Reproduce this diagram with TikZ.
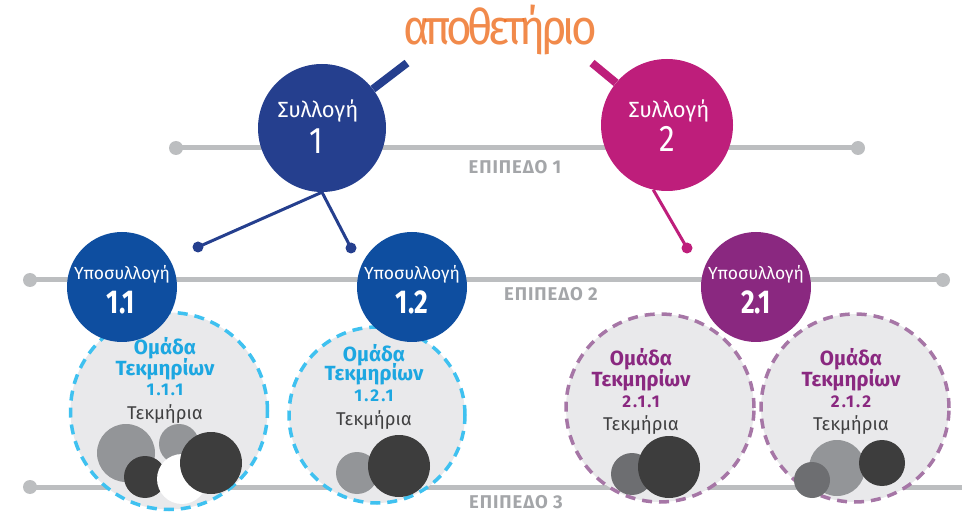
\documentclass[tikz,border=0pt]{standalone}
\usepackage{fontspec}
\setmainfont{Fira Sans}
\newfontfamily\cond[FakeStretch=0.85]{Fira Sans}
\newfontfamily\lvfont[LetterSpace=5]{Fira Sans}
\newfontfamily\numfont[FakeStretch=0.8]{Fira Sans}
\newfontfamily\grpnumfont[LetterSpace=12]{Fira Sans}
\newfontfamily\titlefont[FakeStretch=0.9,LetterSpace=-9]{Fira Sans}
\definecolor{cOne}{HTML}{253F8E}
\definecolor{cTwo}{HTML}{BE1E7B}
\definecolor{cSubOne}{HTML}{0E4EA0}
\definecolor{cSubTwo}{HTML}{8A2880}
\definecolor{cyanT}{HTML}{1DA7E1}
\definecolor{cyanD}{HTML}{3FC1F0}
\definecolor{purpD}{HTML}{A676A6}
\definecolor{lvl}{HTML}{BCBEC0}
\definecolor{lvltxt}{HTML}{A4A6A9}
\definecolor{grpfill}{HTML}{E9E9EB}
\definecolor{evLight}{HTML}{939598}
\definecolor{evDark}{HTML}{3D3D3D}
\definecolor{evMid}{HTML}{6D6E71}
\definecolor{txtDark}{HTML}{404041}
\definecolor{orangeT}{HTML}{EE6D1E}
\begin{document}
\begin{tikzpicture}[x=1pt,y=-1pt,
  lvline/.style={draw=lvl, line width=5},
  lvdot/.style={circle, fill=lvl, minimum size=14, inner sep=0},
  lvlabel/.style={font=\lvfont\bfseries\fontsize{18.5}{18.5}\selectfont, text=lvltxt, inner sep=0},
  collnode/.style={circle, inner sep=0, minimum size=128},
  subnode/.style={circle, inner sep=0, minimum size=110},
  grpnode/.style={circle, inner sep=0, fill=grpfill, line width=3.5, dash pattern=on 10 off 7},
  smalldot/.style={circle, inner sep=0, minimum size=11},
  colltxt/.style={anchor=base, text=white, inner sep=0, font=\fontsize{22}{22}\selectfont},
  collnum/.style={anchor=base, text=white, inner sep=0, font=\cond\fontsize{37}{37}\selectfont},
  subtxt/.style={anchor=base, text=white, inner sep=0, font=\fontsize{17.5}{17.5}\selectfont},
  subnum/.style={anchor=base, text=white, inner sep=0, font=\numfont\bfseries\fontsize{33}{33}\selectfont},
  grptitle/.style={anchor=base, inner sep=0, font=\bfseries\fontsize{20.5}{20.5}\selectfont},
  grpnum/.style={anchor=base, inner sep=0, font=\grpnumfont\bfseries\fontsize{17}{17}\selectfont},
  evtxt/.style={anchor=base, inner sep=0, text=txtDark, font=\fontsize{18.5}{18.5}\selectfont}
]
\useasboundingbox (0,0) rectangle (962,513);

% level lines
\node[lvdot] (l1L) at (176,148) {};
\node[lvdot] (l1R) at (858,148) {};
\draw[lvline] (l1L.center) -- (l1R.center);
\node[lvdot] (l2L) at (30,280) {};
\node[lvdot] (l2R) at (943,280) {};
\draw[lvline] (l2L.center) -- (l2R.center);
\node[lvdot] (l3L) at (30,487) {};
\coordinate (l3R) at (962,487);
\draw[lvline] (l3L.center) -- (l3R);

\node[lvlabel] (e1) at (515,167) {ΕΠΙΠΕΔΟ 1};
\node[lvlabel] (e2) at (551,294) {ΕΠΙΠΕΔΟ 2};
\node[lvlabel] (e3) at (516,502) {ΕΠΙΠΕΔΟ 3};

% title
\node[anchor=base, inner sep=0, text=orangeT, text opacity=0.8,
      font=\titlefont\fontsize{49}{49}\selectfont] (title) at (500,45) {αποθετήριο};

% collections
\node[collnode, fill=cOne] (c1) at (322,128) {};
\node[collnode, fill=cTwo, minimum size=132] (c2) at (667,125) {};
\coordinate (t1) at (407,63);
\coordinate (t2) at (592,63);
\draw[cOne, line width=8] (c1) -- (t1);
\draw[cTwo, line width=8] (c2) -- (t2);
\node[colltxt] (c1a) at (318,118) {Συλλογή};
\node[collnum] (c1b) at (316,154) {1};
\node[colltxt] (c2a) at (669,118) {Συλλογή};
\node[collnum] (c2b) at (667,152) {2};

% small dots and connectors
\node[smalldot, fill=cOne] (d11) at (198,247) {};
\node[smalldot, fill=cOne] (d12) at (351,248) {};
\node[smalldot, fill=cTwo] (d21) at (687,248) {};
\draw[cOne, line width=3] (c1.south) -- (d11.center);
\draw[cOne, line width=3] (c1.south) -- (d12.center);
\draw[cTwo, line width=3] (c2.-102) -- (d21.center);

% group circles
\node[grpnode, draw=cyanD, minimum size=197] (g111) at (169,411) {};
\node[grpnode, draw=cyanD, minimum size=176] (g121) at (377,415) {};
\node[grpnode, draw=purpD, minimum size=188] (g211) at (660,408) {};
\node[grpnode, draw=purpD, minimum size=188] (g212) at (855,408) {};

% subcollections
\node[subnode, fill=cSubOne] (s11) at (122,287) {};
\node[subnode, fill=cSubOne] (s12) at (412,287) {};
\node[subnode, fill=cSubTwo] (s21) at (756,287) {};
\node[subtxt] (s11a) at (122,280) {Υποσυλλογή};
\node[subnum] (s11b) at (121,314) {1.1};
\node[subtxt] (s12a) at (412,280) {Υποσυλλογή};
\node[subnum] (s12b) at (412,314) {1.2};
\node[subtxt] (s21a) at (756,280) {Υποσυλλογή};
\node[subnum] (s21b) at (756,314) {2.1};

% evidence blobs
\fill[evLight] (126,453) circle[radius=29];
\fill[evLight] (179,444) circle[radius=20];
\fill[evDark] (145,477) circle[radius=21];
\fill[white] (182,479) circle[radius=25];
\fill[evDark] (211,463) circle[radius=31];

\fill[evLight] (357,473) circle[radius=21];
\fill[evDark] (399,466) circle[radius=31];

\fill[evMid] (632,474) circle[radius=21];
\fill[evDark] (669,467) circle[radius=31];

\fill[evLight] (837,468) circle[radius=28];
\fill[evDark] (882,463) circle[radius=23];
\fill[evMid] (812,480) circle[radius=18];

% group texts
\node[grptitle, text=cyanT] (g111a) at (165,355) {Ομάδα};
\node[grptitle, text=cyanT] (g111b) at (165,375) {Τεκμηρίων};
\node[grpnum, text=cyanT] (g111c) at (165,395) {1.1.1};
\node[evtxt] (g111d) at (165,419) {Τεκμήρια};

\node[grptitle, text=cyanT] (g121a) at (374,361) {Ομάδα};
\node[grptitle, text=cyanT] (g121b) at (374,381) {Τεκμηρίων};
\node[grpnum, text=cyanT] (g121c) at (374,401) {1.2.1};
\node[evtxt] (g121d) at (374,425) {Τεκμήρια};

\node[grptitle, text=cSubTwo] (g211a) at (641,365) {Ομάδα};
\node[grptitle, text=cSubTwo] (g211b) at (641,386) {Τεκμηρίων};
\node[grpnum, text=cSubTwo] (g211c) at (641,407) {2.1.1};
\node[evtxt] (g211d) at (641,430) {Τεκμήρια};

\node[grptitle, text=cSubTwo] (g212a) at (851,365) {Ομάδα};
\node[grptitle, text=cSubTwo] (g212b) at (851,386) {Τεκμηρίων};
\node[grpnum, text=cSubTwo] (g212c) at (851,407) {2.1.2};
\node[evtxt] (g212d) at (851,430) {Τεκμήρια};
\end{tikzpicture}
\end{document}
